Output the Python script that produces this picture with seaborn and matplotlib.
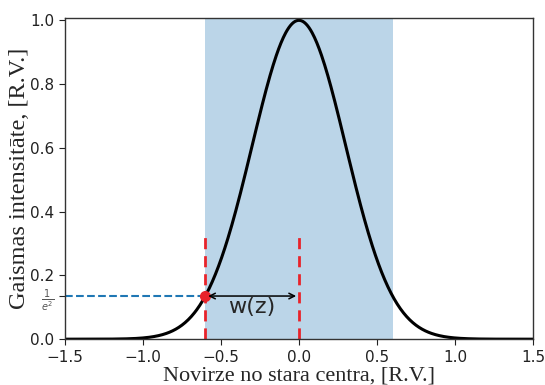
import numpy as np
import pandas as pd
import matplotlib
matplotlib.use("Agg")
import matplotlib.pyplot as plt
import seaborn as sns

# Parameters of the beam profile
beam_center = 0.0
beam_waist = 0.6          # w(z): half-width where intensity falls to 1/e^2
peak_intensity = 1.0
x_range = [-1.5, 1.5]
y_range = [0.0, 1.007]
xticks = [-1.5, -1.0, -0.5, 0.0, 0.5, 1.0, 1.5]
yticks = [0.0, 0.2, 0.4, 0.6, 0.8, 1.0]
level = np.exp(-2)        # 1/e^2
marker_top = 0.335

x = np.linspace(x_range[0], x_range[1], 601)
intensity = peak_intensity * np.exp(-2 * (x - beam_center) ** 2 / beam_waist ** 2)
df = pd.DataFrame({"x": x, "I": intensity})

sns.set_style("ticks")
plt.rcParams["font.family"] = ["DejaVu Sans"]

fig = plt.figure(figsize=(5.45, 3.85), dpi=100)
ax = fig.add_axes([0.119, 0.119, 0.859, 0.834])

ax.axvspan(beam_center - beam_waist, beam_center + beam_waist, color="tab:blue", alpha=0.3, lw=0)
sns.lineplot(data=df, x="x", y="I", color="black", lw=2.2, ax=ax)

ax.plot([x_range[0], beam_center - beam_waist], [level, level], ls="--", color="tab:blue", lw=1.5)
for xv in [beam_center - beam_waist, beam_center]:
    ax.plot([xv, xv], [0, marker_top], ls="--", color="#e8232a", lw=2, dashes=(4, 2.5))
ax.plot([beam_center - beam_waist], [level], "o", color="#e8232a", ms=7)
ax.annotate("", xy=(beam_center - beam_waist, level), xytext=(beam_center, level),
            arrowprops=dict(arrowstyle="<->", color="black", lw=1.1))
ax.text((beam_center - beam_waist / 2), level - 0.035, "w(z)", fontsize=16,
        ha="center", va="center")

ax.set_xlim(*x_range)
ax.set_ylim(*y_range)
ax.set_xticks(xticks)
ax.set_xticklabels(["\u22121.5", "\u22121.0", "\u22120.5", "0.0", "0.5", "1.0", "1.5"])
yt = yticks[:1] + [level] + yticks[1:]
ax.set_yticks(yt)
ax.set_yticklabels(["0.0", r"$\frac{1}{e^2}$", "0.2", "0.4", "0.6", "0.8", "1.0"])
ax.tick_params(labelsize=11, colors="#222222", length=4)
ax.tick_params(axis="x", pad=4)
for lab in ax.get_yticklabels():
    if "frac" in lab.get_text():
        lab.set_fontsize(10)
        lab.set_color("#555555")
for s in ax.spines.values():
    s.set_visible(True)
    s.set_color("#333333")
    s.set_linewidth(1.0)

ax.set_xlabel("Novirze no stara centra, [R.V.]", family="Liberation Serif", fontsize=16, labelpad=1)
ax.set_ylabel("Gaismas intensitāte, [R.V.]", family="Liberation Serif", fontsize=17.5, labelpad=0)

fig.savefig("out.png", dpi=100)
